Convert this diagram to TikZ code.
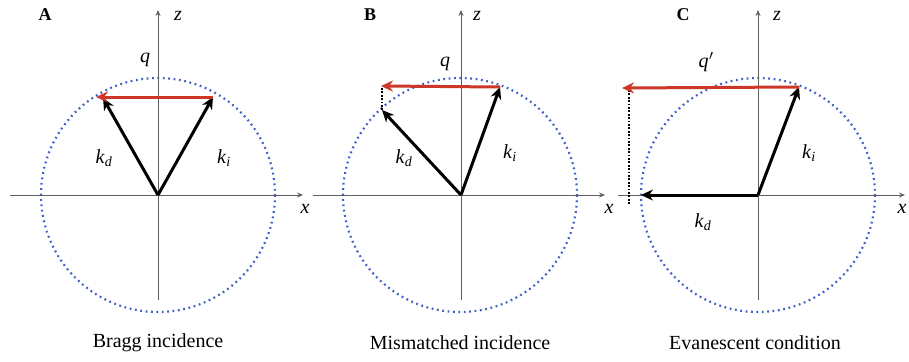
\documentclass[tikz,border=0pt]{standalone}
\usepackage{fontspec}
\setmainfont{Liberation Serif}
\usetikzlibrary{arrows.meta}
\definecolor{qred}{RGB}{205,55,40}
\definecolor{ewald}{RGB}{65,95,200}
\definecolor{axisgray}{RGB}{95,95,95}
\newcommand{\wk}[1]{\textit{k}\textsubscript{\textit{#1}}}
\tikzset{
  axis/.style={draw=axisgray,line width=1pt,-{Stealth[length=6pt,width=5pt]}},
  ewaldcircle/.style={draw=ewald,line width=2.2pt,dash pattern=on 1.8pt off 3.6pt},
  wavevec/.style={draw=black,line width=3pt,-{Stealth[length=12pt,width=11pt]}},
  qvec/.style={draw=qred,line width=3pt,-{Stealth[length=12pt,width=11pt]}},
  proj/.style={draw=black,line width=1.8pt,dash pattern=on 1.8pt off 1.6pt},
  lbl/.style={inner sep=0pt,font=\fontsize{20}{24}\selectfont},
  panel/.style={inner sep=0pt,font=\fontsize{18}{22}\selectfont\bfseries}
}
\begin{document}
\begin{tikzpicture}[x=1pt,y=-1pt]
\useasboundingbox (0,0) rectangle (909,361);

% A: Bragg incidence
\coordinate (oA) at (158,195);
\draw[ewaldcircle] (oA) circle (117);
\coordinate (xa0) at (10,195);
\coordinate (xa1) at (303,195);
\coordinate (za0) at (158,300);
\coordinate (za1) at (158,10);
\draw[axis] (xa0) -- (xa1);
\draw[axis] (za0) -- (za1);
\coordinate (kiA) at (213,97);
\coordinate (kdA) at (103,98);
\coordinate (qA) at (96,97);
\draw[wavevec] (oA) -- (kiA);
\draw[wavevec] (oA) -- (kdA);
\draw[qvec] (kiA) -- (qA);
\node[lbl] (lqA) at (145,60) {\textit{q}};
\node[lbl] (lkdA) at (104,158) {\wk{d}};
\node[lbl] (lkiA) at (224,158) {\wk{i}};
\node[lbl] (lzA) at (178,16) {\textit{z}};
\node[lbl] (lxA) at (305,209) {\textit{x}};
\node[panel] (A) at (45,15) {A};
\node[lbl] (capA) at (158,343) {Bragg incidence};

% B: Mismatched incidence
\coordinate (oB) at (460,195);
\draw[ewaldcircle] (oB) circle (117);
\coordinate (xb0) at (313,195);
\coordinate (xb1) at (605,195);
\coordinate (zb0) at (461,300);
\coordinate (zb1) at (461,10);
\draw[axis] (xb0) -- (xb1);
\draw[axis] (zb0) -- (zb1);
\coordinate (oBk) at (461,195);
\coordinate (kiB) at (500,87);
\coordinate (kdB) at (382,110);
\coordinate (qB) at (381,86);
\coordinate (pB) at (382,88);
\draw[proj] (pB) -- (kdB);
\draw[wavevec] (oBk) -- (kiB);
\draw[wavevec] (oBk) -- (kdB);
\draw[qvec] (kiB) -- (qB);
\node[lbl] (lqB) at (445,64) {\textit{q}};
\node[lbl] (lkdB) at (404,158) {\wk{d}};
\node[lbl] (lkiB) at (510,153) {\wk{i}};
\node[lbl] (lzB) at (477,16) {\textit{z}};
\node[lbl] (lxB) at (609,209) {\textit{x}};
\node[panel] (B) at (370,15) {B};
\node[lbl] (capB) at (460,343) {Mismatched incidence};

% C: Evanescent condition
\coordinate (oC) at (758,195);
\draw[ewaldcircle] (oC) circle (117);
\coordinate (xc0) at (618,195);
\coordinate (xc1) at (905,195);
\coordinate (zc0) at (758,300);
\coordinate (zc1) at (758,10);
\draw[axis] (xc0) -- (xc1);
\draw[axis] (zc0) -- (zc1);
\coordinate (kiC) at (799,87);
\coordinate (kdC) at (641,195);
\coordinate (qC) at (622,88);
\coordinate (pC0) at (629,90);
\coordinate (pC1) at (629,204);
\draw[proj] (pC0) -- (pC1);
\draw[wavevec] (oC) -- (kiC);
\draw[wavevec] (oC) -- (kdC);
\draw[qvec] (kiC) -- (qC);
\node[lbl] (lqC) at (706,62) {\textit{q}\kern0.5pt$'$};
\node[lbl] (lkdC) at (703,222) {\wk{d}};
\node[lbl] (lkiC) at (809,153) {\wk{i}};
\node[lbl] (lzC) at (777,16) {\textit{z}};
\node[lbl] (lxC) at (902,209) {\textit{x}};
\node[panel] (C) at (683,15) {C};
\node[lbl] (capC) at (755,343) {Evanescent condition};
\end{tikzpicture}
\end{document}
